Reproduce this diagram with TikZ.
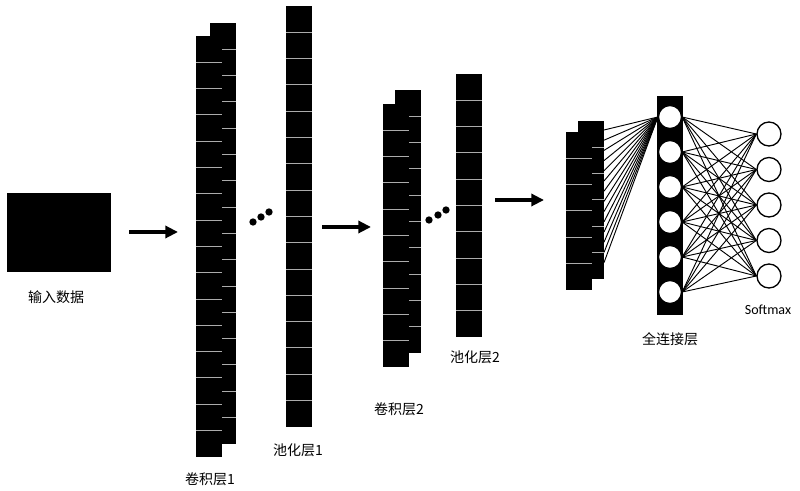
\documentclass[tikz,border=0pt]{standalone}
\usepackage{fontspec}
\setmainfont{Carlito}
\newfontfamily\cjk{Noto Sans CJK SC}
\usetikzlibrary{arrows.meta,positioning}

% one column of feature-map cells: name, left x, top y, number of cells
\newcommand{\cellstack}[4]{%
  \foreach \i in {1,...,#4}
    \node[cellbox] (#1-\i) at (#2, {#3+26.3*(\i-1)}) {};
  \foreach \i in {2,...,#4}
    \draw[cellsep] (#1-\i.north west) -- (#1-\i.north east);
}

\begin{document}
\begin{tikzpicture}[x=0.75pt,y=-0.75pt,
    cellbox/.style={fill=black, minimum width=19.5pt, minimum height=19.7pt,
      inner sep=0pt, outer sep=0pt, anchor=north west},
    cellsep/.style={draw=gray!65, line width=0.7pt},
    neuron/.style={circle, draw=black, fill=white, line width=1pt, minimum size=17.25pt, inner sep=0pt},
    dotnode/.style={circle, fill=black, minimum size=5.5pt, inner sep=0pt},
    bigarrow/.style={line width=3pt, -{Triangle[length=9.5pt,width=9pt]}},
    lbl/.style={font=\fontsize{10.5}{12}\selectfont, inner sep=0pt},
    wire/.style={line width=0.7pt}]

  \useasboundingbox[fill=white] (0,0) rectangle (800,491);

  % input
  \node[fill=black, minimum width=78pt, minimum height=59.25pt, inner sep=0pt] (input) at (59,232.5) {};
  \node[lbl] (inputlbl) at (56,297) {\cjk 输入数据};
  \coordinate (arrA-s) at (129,232);
  \coordinate (arrA-e) at (178,232);
  \draw[bigarrow] (arrA-s) -- (arrA-e);

  % conv 1 / pool 1
  \cellstack{convAb}{210}{23}{16}
  \cellstack{convAf}{196}{36}{16}
  \cellstack{poolA}{286}{6}{16}
  \foreach \k/\px/\py in {1/253/222, 2/261/217, 3/269/212}
    \node[dotnode] (dotA\k) at (\px,\py) {};
  \node[lbl] (convAlbl) at (210,479) {\cjk 卷积层1};
  \node[lbl] (poolAlbl) at (298,450) {\cjk 池化层1};
  \coordinate (arrB-s) at (322,227);
  \coordinate (arrB-e) at (371,227);
  \draw[bigarrow] (arrB-s) -- (arrB-e);

  % conv 2 / pool 2
  \cellstack{convBb}{395}{90}{10}
  \cellstack{convBf}{383}{104}{10}
  \cellstack{poolB}{456}{74}{10}
  \foreach \k/\px/\py in {1/429/220, 2/438/215, 3/446/210}
    \node[dotnode] (dotB\k) at (\px,\py) {};
  \node[lbl] (convBlbl) at (399,409) {\cjk 卷积层2};
  \node[lbl] (poolBlbl) at (475,357) {\cjk 池化层2};
  \coordinate (arrC-s) at (495,200);
  \coordinate (arrC-e) at (544,200);
  \draw[bigarrow] (arrC-s) -- (arrC-e);

  % fully connected part
  \cellstack{fcb}{578}{121}{6}
  \cellstack{fcf}{566}{132}{6}
  \node[fill=black, minimum width=19.5pt, minimum height=164.25pt, inner sep=0pt] (fcbar) at (670,205.5) {};
  \foreach \i in {1,...,6}
    \node[neuron] (f\i) at (670, {117+35*(\i-1)}) {};
  \foreach \j in {1,...,5}
    \node[neuron, minimum size=18pt] (s\j) at (769, {134+35.5*(\j-1)}) {};
  \foreach \k in {1,...,14} {
    \coordinate (fcin\k) at (604, {130+10.2*(\k-1)});
    \draw[wire] (fcin\k) -- (f1.west);
  }
  \foreach \i in {1,...,6}
    \foreach \j in {1,...,5}
      \draw[wire] (f\i.east) -- (s\j.west);
  \node[lbl] (fclbl) at (670,339) {\cjk 全连接层};
  \node[lbl] (smlbl) at (768,310) {Softmax};
\end{tikzpicture}
\end{document}
